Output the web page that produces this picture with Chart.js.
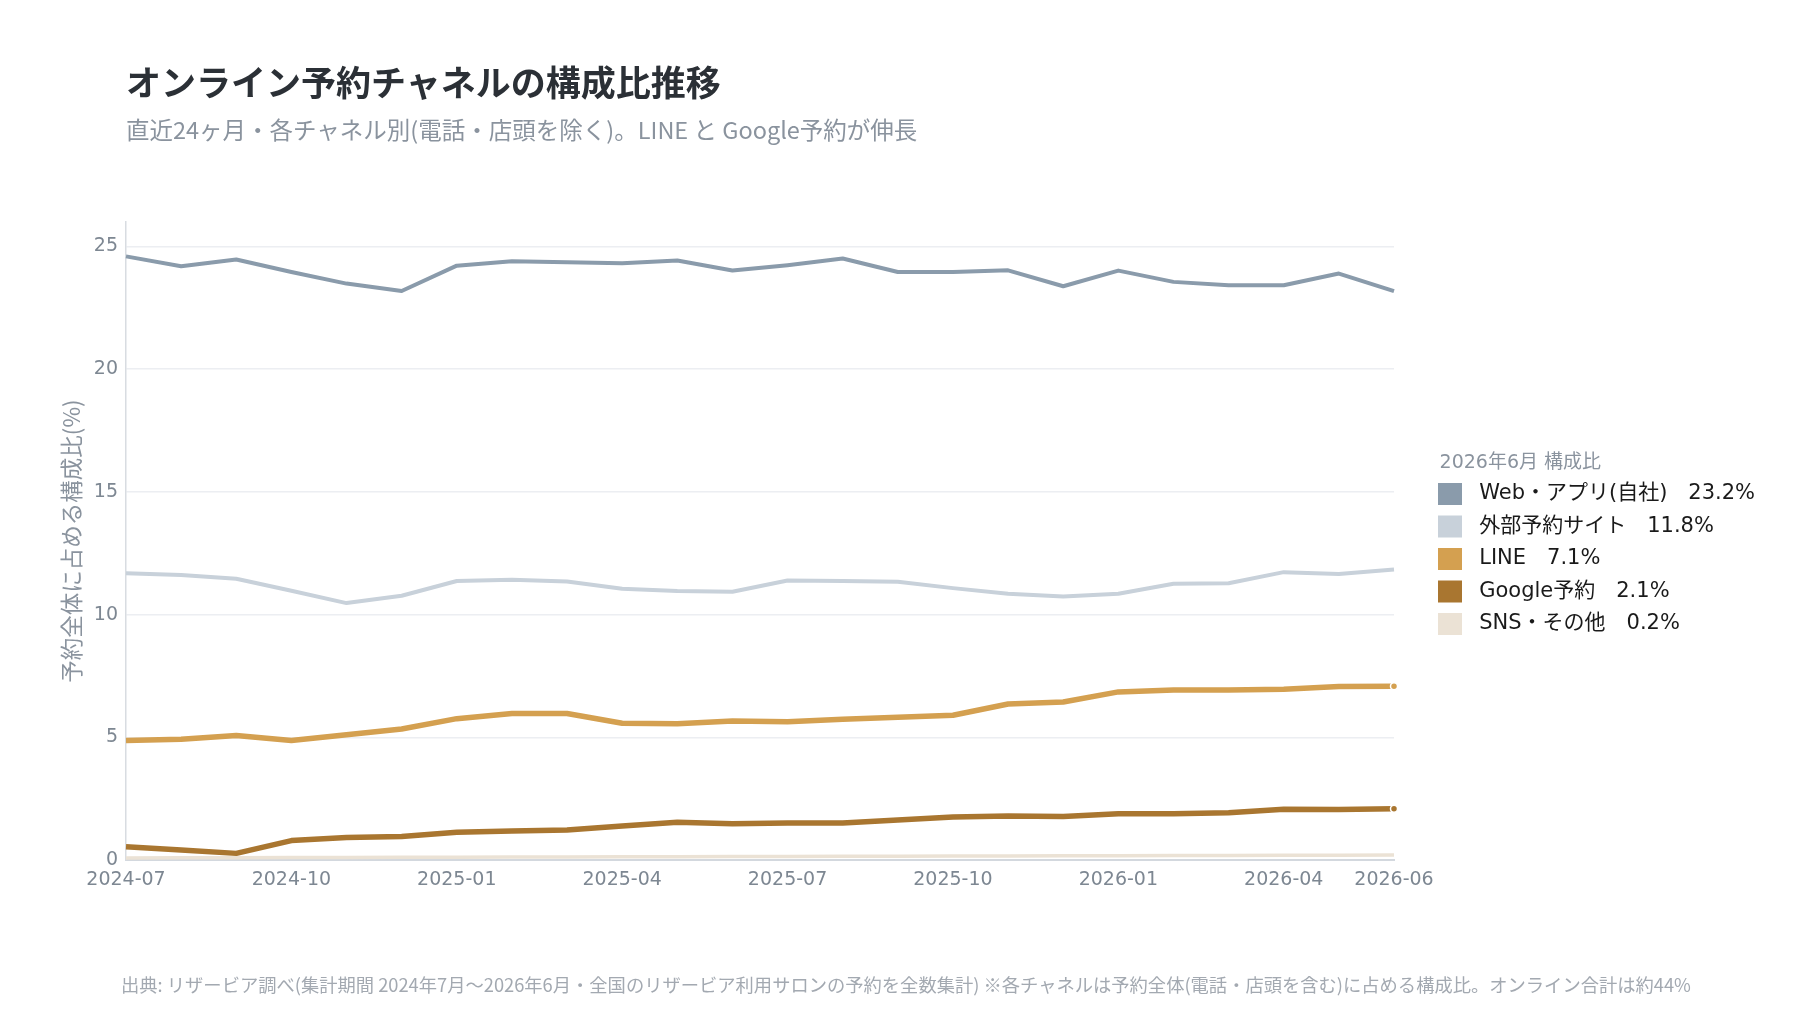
<!DOCTYPE html>
<html>
<head>
<meta charset="utf-8">
<script src="https://cdn.jsdelivr.net/npm/chart.js@4.4.1/dist/chart.umd.min.js"></script>
<style>
html,body{margin:0;padding:0;background:#ffffff;}
#wrap{position:relative;width:1800px;height:1012px;overflow:hidden;background:#fff;}
#c{position:absolute;left:0;top:0;}
.t{position:absolute;white-space:nowrap;font-family:"Noto Sans CJK JP","Noto Sans",sans-serif;line-height:1;}
#title{left:126px;top:63px;font-size:35px;font-weight:700;color:#2b3036;}
#subtitle{left:126px;top:118px;font-size:23.5px;color:#8a939e;}
#footer{left:6px;width:1800px;text-align:center;top:975px;font-size:18.3px;color:#a3a9b1;}
</style>
</head>
<body>
<div id="wrap">
  <canvas id="c" width="1800" height="1012"></canvas>
  <div class="t" id="title">オンライン予約チャネルの構成比推移</div>
  <div class="t" id="subtitle">直近24ヶ月・各チャネル別(電話・店頭を除く)。LINE と Google予約が伸長</div>
  <div class="t" id="footer">出典: リザービア調べ(集計期間 2024年7月〜2026年6月・全国のリザービア利用サロンの予約を全数集計) ※各チャネルは予約全体(電話・店頭を含む)に占める構成比。オンライン合計は約44%</div>
</div>
<script>
// ---- data ----
const months = ['2024-07','2024-08','2024-09','2024-10','2024-11','2024-12',
                '2025-01','2025-02','2025-03','2025-04','2025-05','2025-06',
                '2025-07','2025-08','2025-09','2025-10','2025-11','2025-12',
                '2026-01','2026-02','2026-03','2026-04','2026-05','2026-06'];
const xTickLabels = ['2024-07','2024-10','2025-01','2025-04','2025-07','2025-10','2026-01','2026-04','2026-06'];
const yTickValues = [0,5,10,15,20,25];

const seriesNames = ['Web・アプリ(自社)','外部予約サイト','LINE','Google予約','SNS・その他'];
const webApp   = [24.6, 24.2, 24.47, 23.96, 23.49, 23.19, 24.22, 24.4, 24.36, 24.32, 24.43, 24.02, 24.24, 24.51, 23.96, 23.96, 24.03, 23.38, 24.02, 23.56, 23.42, 23.42, 23.9, 23.18];
const external = [11.69, 11.61, 11.46, 10.97, 10.47, 10.77, 11.37, 11.42, 11.35, 11.05, 10.96, 10.93, 11.39, 11.37, 11.34, 11.08, 10.85, 10.74, 10.85, 11.26, 11.28, 11.73, 11.66, 11.84];
const lineCh   = [4.87, 4.92, 5.07, 4.87, 5.1, 5.34, 5.76, 5.97, 5.97, 5.57, 5.55, 5.66, 5.63, 5.74, 5.82, 5.9, 6.36, 6.44, 6.85, 6.93, 6.93, 6.96, 7.07, 7.08];
const google   = [0.54, 0.41, 0.27, 0.79, 0.92, 0.96, 1.13, 1.18, 1.22, 1.39, 1.54, 1.48, 1.51, 1.51, 1.63, 1.75, 1.79, 1.77, 1.88, 1.88, 1.93, 2.07, 2.06, 2.09];
const sns      = [0.08, 0.09, 0.09, 0.1, 0.1, 0.11, 0.11, 0.12, 0.12, 0.13, 0.13, 0.14, 0.14, 0.15, 0.15, 0.16, 0.16, 0.17, 0.17, 0.18, 0.18, 0.19, 0.19, 0.2];
const seriesValues = [webApp, external, lineCh, google, sns];

// ---- styles ----
const colors = ['#8a9bab','#c8d1da','#d4a050','#a97630','#ebe2d5'];
const widths = [4, 4, 5.5, 5.5, 3.5];
const endMarker = [false, false, true, true, false];

const FONT = '"DejaVu Sans","Noto Sans CJK JP",sans-serif';
Chart.defaults.font.family = FONT;

const datasets = seriesValues.map((vals, i) => ({
  label: seriesNames[i],
  data: vals,
  borderColor: colors[i],
  backgroundColor: colors[i],
  borderWidth: widths[i],
  tension: 0,
  fill: false,
  borderJoinStyle: 'round',
  borderCapStyle: 'butt',
  pointRadius: vals.map((v, j) => (endMarker[i] && j === vals.length - 1) ? 3.5 : 0),
  pointBackgroundColor: colors[i],
  pointBorderColor: '#ffffff',
  pointBorderWidth: 1.5,
  order: seriesNames.length - i
}));

const legendShift = {
  id: 'legendShift',
  afterLayout(chart) {
    const lg = chart.legend;
    if (!lg) return;
    lg.left = chart.chartArea.right + 33.5;
    lg.right = chart.width;
    lg.width = lg.right - lg.left;
    lg.top -= 11.5; lg.bottom -= 11.5;
  }
};

new Chart(document.getElementById('c'), {
  type: 'line',
  data: { labels: months, datasets },
  options: {
    responsive: false,
    animation: false,
    devicePixelRatio: 1,
    layout: { padding: { left: 0, top: 222, right: 306, bottom: 112 } },
    plugins: {
      tooltip: { enabled: false },
      legend: {
        position: 'right',
        align: 'center',
        maxWidth: 100,
        title: {
          display: true,
          text: '  2026年6月 構成比',
          color: '#8a939e',
          position: 'start',
          padding: 0,
          font: { size: 19, lineHeight: 1, family: FONT }
        },
        labels: {
          boxWidth: 24,
          boxHeight: 22,
          padding: 10.5,
          color: '#1a1a1a',
          font: { size: 21, family: FONT },
          generateLabels: () => seriesNames.map((n, i) => ({
            text: ' ' + n + '\u3000' + seriesValues[i][seriesValues[i].length - 1].toFixed(1) + '%',
            fillStyle: colors[i],
            strokeStyle: colors[i],
            fontColor: '#1a1a1a',
            lineWidth: 0,
            hidden: false,
            datasetIndex: i
          }))
        }
      }
    },
    scales: {
      x: {
        type: 'category',
        offset: false,
        grid: { display: false, drawTicks: false },
        border: { display: true, color: '#d3d8de', width: 2 },
        ticks: {
          autoSkip: false,
          maxRotation: 0,
          minRotation: 0,
          padding: 8.5,
          color: '#7d8792',
          font: { size: 19 },
          callback: (v, i) => xTickLabels.includes(months[i]) ? months[i] : ''
        },
        afterFit: s => { s.height = 40; }
      },
      y: {
        min: 0,
        max: 26,
        grid: { color: '#eceef2', lineWidth: 1.5, drawTicks: false },
        border: { display: true, color: '#d8dce1', width: 1.5 },
        afterBuildTicks: s => { s.ticks = yTickValues.map(v => ({ value: v })); },
        ticks: { padding: 8, color: '#7d8792', font: { size: 19 } },
        title: {
          display: true,
          text: '予約全体に占める構成比(%)',
          color: '#8a939e',
          font: { size: 22.5, family: '"Noto Sans CJK JP",sans-serif' },
          padding: { top: 58, bottom: 0 }
        },
        afterFit: s => { s.width = 126; }
      }
    }
  },
  plugins: [legendShift]
});
</script>
</body>
</html>
